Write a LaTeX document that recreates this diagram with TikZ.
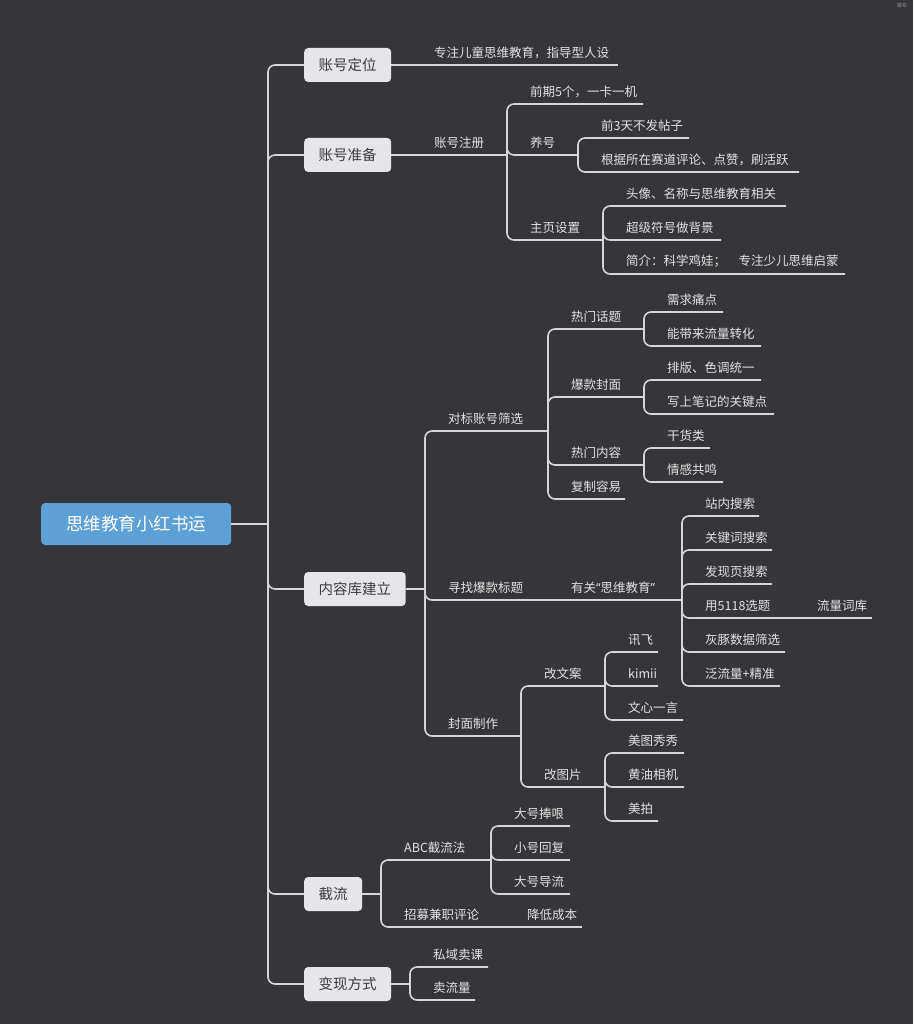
\documentclass[tikz,border=0pt]{standalone}
\usepackage{fontspec}
\setmainfont{Noto Sans CJK SC}
\newfontfamily\latinquote{Noto Sans}
\definecolor{bgdark}{HTML}{36363A}
\definecolor{linegray}{HTML}{D6D6D6}
\definecolor{textgray}{HTML}{E2E2E2}
\definecolor{boxgray}{HTML}{E6E6E8}
\definecolor{boxtext}{HTML}{3C3C3E}
\definecolor{rootblue}{HTML}{5DA0D6}
\definecolor{logogray}{HTML}{8A8A90}

\begin{document}
\begin{tikzpicture}[x=1pt, y=-1pt,
  branch/.style={draw=linegray, line width=1.6pt, rounded corners=7pt},
  topic/.style={anchor=west, inner sep=0pt, text=textgray, font=\fontsize{12.5}{15}\selectfont},
  mainbox/.style={anchor=west, fill=boxgray, text=boxtext, rounded corners=4pt, minimum height=34pt, inner xsep=14.5pt, inner ysep=0pt, font=\fontsize{14.5}{17}\selectfont},
  rootbox/.style={anchor=west, fill=rootblue, text=white, rounded corners=4pt, minimum width=190pt, minimum height=42pt, font=\fontsize{17.5}{20}\selectfont}]

% Background - fixes the page size
\fill[bgdark] (0,0) rectangle (913,1024);
\node[font=\fontsize{5}{6}\selectfont, text=logogray] (logo) at (902,6) {幕布};

% ========== Root ==========
\node[rootbox] (root) at (41,524) {思维教育小红书运};
\coordinate (root-e) at (268,524);
\draw[branch] (root.east) -- (root-e);

% ========== Main branches ==========
\foreach \nm/\ly/\lab in {zhdw/65/账号定位, zhzb/155/账号准备, nrk/589/内容库建立, jl/894/截流, bx/984/变现方式} {
  \node[mainbox] (\nm) at (304,\ly) {\lab};
  \draw[branch] (root-e) |- (\nm.west);
}

% ========== Section 1: 账号定位 ==========
\node[topic] (dw1) at (434,52.5) {专注儿童思维教育，指导型人设};
\coordinate (dw1-e) at (618,65);
\draw[branch] (zhdw.east) -- (dw1-e);

% ========== Section 2: 账号准备 ==========
\node[topic] (zc) at (434,142.5) {账号注册};
\coordinate (zc-e) at (507,155);
\draw[branch] (zhzb.east) -- (zc-e);

\foreach \nm/\ly/\xe/\lab in {zc1/104/643/{前期5个，一卡一机}, zc2/155/578/养号, zc3/240/603/主页设置} {
  \node[topic] (\nm) at (530,\ly-12.5) {\lab};
  \coordinate (\nm-e) at (\xe,\ly);
  \draw[branch] (zc-e) |- (\nm-e);
}

% 养号
\foreach \nm/\ly/\xe/\lab in {yh1/138/689/前3天不发帖子, yh2/172/799/{根据所在赛道评论、点赞，刷活跃}} {
  \node[topic] (\nm) at (601,\ly-12.5) {\lab};
  \coordinate (\nm-e) at (\xe,\ly);
  \draw[branch] (zc2-e) |- (\nm-e);
}

% 主页设置
\foreach \nm/\ly/\xe/\lab in {zy1/206/786/{头像、名称与思维教育相关}, zy2/240/721/超级符号做背景, zy3/274/845/{简介：科学鸡娃；　专注少儿思维启蒙}} {
  \node[topic] (\nm) at (626,\ly-12.5) {\lab};
  \coordinate (\nm-e) at (\xe,\ly);
  \draw[branch] (zc3-e) |- (\nm-e);
}

% ========== Section 3: 内容库建立 ==========
\coordinate (nrk-e) at (425,589);
\draw[branch] (nrk.east) -- (nrk-e);

\foreach \nm/\ly/\xe/\lab in {db/431/548/对标账号筛选, xz/600/548/寻找爆款标题, fm/736/521/封面制作} {
  \node[topic] (\nm) at (448,\ly-12.5) {\lab};
  \coordinate (\nm-e) at (\xe,\ly);
  \draw[branch] (nrk-e) |- (\nm-e);
}

% 对标账号筛选
\foreach \nm/\ly/\xe/\lab in {db1/329/644/热门话题, db2/397/644/爆款封面, db3/465/644/热门内容, db4/499/625/复制容易} {
  \node[topic] (\nm) at (571,\ly-12.5) {\lab};
  \coordinate (\nm-e) at (\xe,\ly);
  \draw[branch] (db-e) |- (\nm-e);
}

% 热门话题 / 爆款封面 / 热门内容
\foreach \pa/\nm/\ly/\xe/\lab in {db1/ht1/312/723/需求痛点, db1/ht2/346/761/能带来流量转化,
    db2/bk1/380/761/{排版、色调统一}, db2/bk2/414/774/写上笔记的关键点,
    db3/nr1/448/710/干货类, db3/nr2/482/723/情感共鸣} {
  \node[topic] (\nm) at (667,\ly-12.5) {\lab};
  \coordinate (\nm-e) at (\xe,\ly);
  \draw[branch] (\pa-e) |- (\nm-e);
}

% 寻找爆款标题
\node[topic] (yg) at (571,587.5) {有关{\latinquote “}思维教育{\latinquote ”}};
\coordinate (yg-e) at (682,600);
\draw[branch] (xz-e) -- (yg-e);

\foreach \nm/\ly/\xe/\lab in {yg1/516/759/站内搜索, yg2/550/772/关键词搜索, yg3/584/772/发现页搜索,
    yg4/618/794/用5118选题, yg5/652/785/灰豚数据筛选, yg6/686/780/泛流量+精准} {
  \node[topic] (\nm) at (705,\ly-12.5) {\lab};
  \coordinate (\nm-e) at (\xe,\ly);
  \draw[branch] (yg-e) |- (\nm-e);
}

\node[topic] (ck) at (817,605.5) {流量词库};
\coordinate (ck-e) at (872,618);
\draw[branch] (yg4-e) -- (ck-e);

% 封面制作
\foreach \nm/\ly/\lab in {fm1/686/改文案, fm2/787/改图片} {
  \node[topic] (\nm) at (544,\ly-12.5) {\lab};
  \coordinate (\nm-e) at (605,\ly);
  \draw[branch] (fm-e) |- (\nm-e);
}

\foreach \pa/\nm/\ly/\xe/\lab in {fm1/wa1/652/658/讯飞, fm1/wa2/686/658/kimii, fm1/wa3/720/683/文心一言,
    fm2/tp1/753/684/美图秀秀, fm2/tp2/787/684/黄油相机, fm2/tp3/821/658/美拍} {
  \node[topic] (\nm) at (628,\ly-12.5) {\lab};
  \coordinate (\nm-e) at (\xe,\ly);
  \draw[branch] (\pa-e) |- (\nm-e);
}

% ========== Section 4: 截流 ==========
\coordinate (jl-e) at (381,894);
\draw[branch] (jl.east) -- (jl-e);

\foreach \nm/\ly/\xe/\lab in {abc/860/491/ABC截流法, zm/927/504/招募兼职评论} {
  \node[topic] (\nm) at (404,\ly-12.5) {\lab};
  \coordinate (\nm-e) at (\xe,\ly);
  \draw[branch] (jl-e) |- (\nm-e);
}

\foreach \nm/\ly/\lab in {abc1/826/大号捧哏, abc2/860/小号回复, abc3/894/大号导流} {
  \node[topic] (\nm) at (514,\ly-12.5) {\lab};
  \coordinate (\nm-e) at (570,\ly);
  \draw[branch] (abc-e) |- (\nm-e);
}

\node[topic] (cb) at (527,914.5) {降低成本};
\coordinate (cb-e) at (582,927);
\draw[branch] (zm-e) -- (cb-e);

% ========== Section 5: 变现方式 ==========
\coordinate (bx-e) at (410,984);
\draw[branch] (bx.east) -- (bx-e);

\foreach \nm/\ly/\xe/\lab in {bx1/967/488/私域卖课, bx2/1000/475/卖流量} {
  \node[topic] (\nm) at (433,\ly-12.5) {\lab};
  \coordinate (\nm-e) at (\xe,\ly);
  \draw[branch] (bx-e) |- (\nm-e);
}

\end{tikzpicture}
\end{document}
